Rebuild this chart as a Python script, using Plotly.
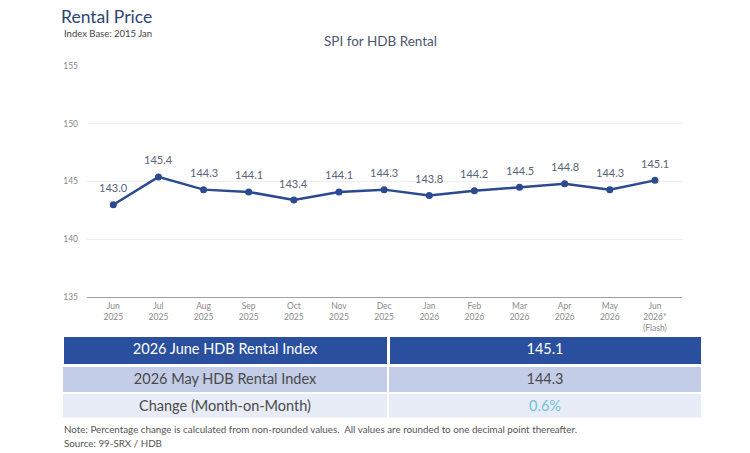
import plotly.graph_objects as go

months = ["Jun<br>2025", "Jul<br>2025", "Aug<br>2025", "Sep<br>2025", "Oct<br>2025", "Nov<br>2025",
          "Dec<br>2025", "Jan<br>2026", "Feb<br>2026", "Mar<br>2026", "Apr<br>2026", "May<br>2026",
          "Jun<br>2026*<br>(Flash)"]
spi = [143.0, 145.4, 144.3, 144.1, 143.4, 144.1, 144.3, 143.8, 144.2, 144.5, 144.8, 144.3, 145.1]
y_ticks = [135, 140, 145, 150, 155]

table_labels = ["2026 June HDB Rental Index", "2026 May HDB Rental Index", "Change (Month-on-Month)"]
table_values = ["145.1", "144.3", "0.6%"]

FONT = "Lato"
LINE = "#2B4A8F"

fig = go.Figure()
fig.add_trace(go.Scatter(
    x=months, y=spi, mode="lines+markers",
    line=dict(color=LINE, width=2.5),
    marker=dict(color=LINE, size=7),
    hoverinfo="skip", showlegend=False,
))
for m, v in zip(months, spi):
    fig.add_annotation(x=m, y=v, text=f"{v:.1f}", showarrow=False, yshift=17,
                       font=dict(family=FONT, size=11, color="#5A6478"))

fig.add_trace(go.Table(
    domain=dict(x=[62/750, 702/750], y=[31/453, 115/453]),
    columnwidth=[326, 314],
    header=dict(values=[table_labels[0], table_values[0]],
                fill_color="#2A4F9F", line=dict(color="white", width=3),
                font=dict(family=FONT, size=14.5, color="white"), height=30, align="center"),
    cells=dict(values=[table_labels[1:], table_values[1:]],
               fill_color=[["#C3CDE7", "#E7ECF6"], ["#C3CDE7", "#E7ECF6"]],
               line=dict(color="white", width=2),
               font=dict(family=FONT, size=14.5,
                         color=[["#4A4A4A", "#4A4A4A"], ["#4A4A4A", "#6EC3D6"]]),
               height=27, align="center"),
))

fig.update_layout(
    width=750, height=453, margin=dict(l=0, r=0, t=0, b=0),
    paper_bgcolor="white", plot_bgcolor="white",
    font=dict(family=FONT),
    xaxis=dict(domain=[87/750, 682/750], range=[-0.583, 12.6], showline=True,
               linecolor="#A0A0A0", linewidth=1.2,
               ticks="", tickfont=dict(family=FONT, size=8.5, color="#8A8A8A"),
               showgrid=False, fixedrange=True),
    yaxis=dict(domain=[154/453, 391/453], range=[135, 155], tickvals=y_ticks,
               showgrid=True, gridcolor="#EEEEEE", gridwidth=1, zeroline=False,
               tickfont=dict(family=FONT, size=8.5, color="#8A8A8A"), ticklabelstandoff=8,
               fixedrange=True),
)

fig.add_annotation(xref="paper", yref="paper", x=59/750, y=1 - 12/453, xanchor="left", yanchor="middle",
                   text="Rental Price", showarrow=False, font=dict(family=FONT, size=17.5, color="#2E4573"))
fig.add_annotation(xref="paper", yref="paper", x=62/750, y=1 - 29/453, xanchor="left", yanchor="middle",
                   text="Index Base: 2015 Jan", showarrow=False, font=dict(family=FONT, size=9.5, color="#444444"))
fig.add_annotation(xref="paper", yref="paper", x=380/750, y=1 - 37/453, xanchor="center", yanchor="middle",
                   text="SPI for HDB Rental", showarrow=False, font=dict(family=FONT, size=13.5, color="#4C5670"))
fig.add_annotation(xref="paper", yref="paper", x=62/750, y=1 - 434/453, xanchor="left", yanchor="middle",
                   text="Note: Percentage change is calculated from non-rounded values.  All values are rounded to one decimal point thereafter.",
                   showarrow=False, font=dict(family=FONT, size=9.8, color="#555555"))
fig.add_annotation(xref="paper", yref="paper", x=62/750, y=1 - 448/453, xanchor="left", yanchor="middle",
                   text="Source: 99-SRX / HDB", showarrow=False, font=dict(family=FONT, size=9.8, color="#555555"))

fig.write_html("out.html")
